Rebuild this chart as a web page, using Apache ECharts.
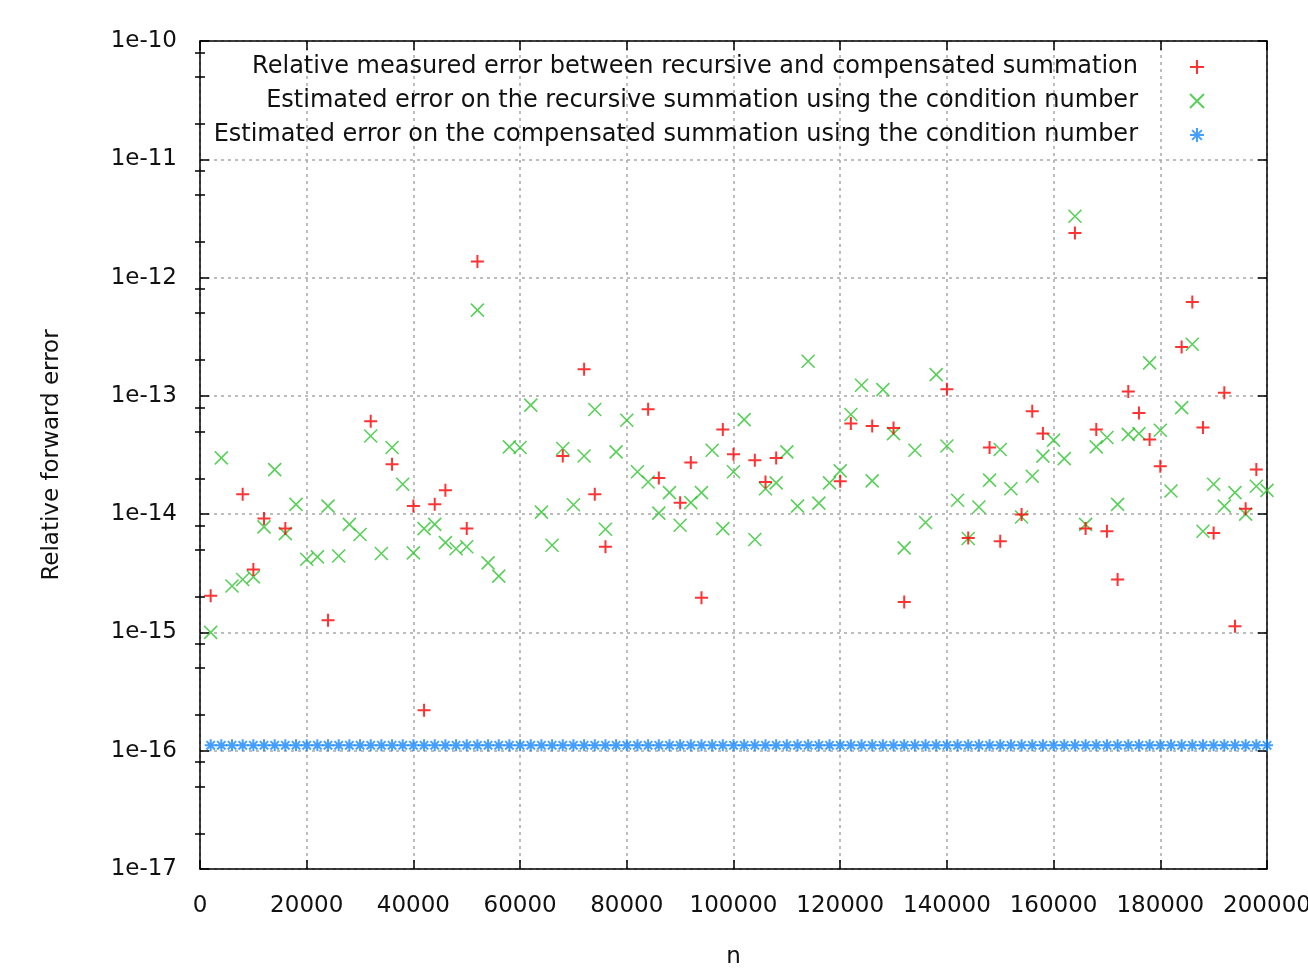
<!DOCTYPE html>
<html>
<head>
<meta charset="utf-8">
<title>Relative forward error of recursive and compensated summation</title>
<script src="https://cdn.jsdelivr.net/npm/echarts@6/dist/echarts.min.js"></script>
<style>
  html, body { margin: 0; padding: 0; background: #ffffff; }
  #chart { width: 1308px; height: 976px; }
</style>
</head>
<body>
<div id="chart"></div>
<script>
// Problem sizes n (every run of the experiment)
const sizes = [
  2000, 4000, 6000, 8000, 10000, 12000, 14000, 16000, 18000, 20000,
  22000, 24000, 26000, 28000, 30000, 32000, 34000, 36000, 38000, 40000,
  42000, 44000, 46000, 48000, 50000, 52000, 54000, 56000, 58000, 60000,
  62000, 64000, 66000, 68000, 70000, 72000, 74000, 76000, 78000, 80000,
  82000, 84000, 86000, 88000, 90000, 92000, 94000, 96000, 98000, 100000,
  102000, 104000, 106000, 108000, 110000, 112000, 114000, 116000, 118000, 120000,
  122000, 124000, 126000, 128000, 130000, 132000, 134000, 136000, 138000, 140000,
  142000, 144000, 146000, 148000, 150000, 152000, 154000, 156000, 158000, 160000,
  162000, 164000, 166000, 168000, 170000, 172000, 174000, 176000, 178000, 180000,
  182000, 184000, 186000, 188000, 190000, 192000, 194000, 196000, 198000, 200000
];

// Error bound of the recursive summation (condition number based), one per size
const estimatedRecursive = [
  1.0e-15, 2.99e-14, 2.47e-15, 2.8e-15, 2.95e-15, 7.8e-15, 2.38e-14, 6.85e-15, 1.21e-14, 4.16e-15,
  4.35e-15, 1.17e-14, 4.43e-15, 8.2e-15, 6.73e-15, 4.58e-14, 4.65e-15, 3.66e-14, 1.79e-14, 4.7e-15,
  7.55e-15, 8.2e-15, 5.75e-15, 5.1e-15, 5.3e-15, 5.3e-13, 3.87e-15, 2.99e-15, 3.7e-14, 3.66e-14,
  8.34e-14, 1.04e-14, 5.46e-15, 3.59e-14, 1.2e-14, 3.1e-14, 7.66e-14, 7.45e-15, 3.36e-14, 6.22e-14,
  2.28e-14, 1.87e-14, 1.02e-14, 1.52e-14, 8.05e-15, 1.25e-14, 1.52e-14, 3.47e-14, 7.55e-15, 2.28e-14,
  6.3e-14, 6.1e-15, 1.64e-14, 1.84e-14, 3.36e-14, 1.17e-14, 1.96e-13, 1.24e-14, 1.84e-14, 2.32e-14,
  6.95e-14, 1.23e-13, 1.91e-14, 1.13e-13, 4.8e-14, 5.18e-15, 3.47e-14, 8.5e-15, 1.51e-13, 3.77e-14,
  1.31e-14, 6.22e-15, 1.15e-14, 1.94e-14, 3.52e-14, 1.64e-14, 9.46e-15, 2.09e-14, 3.09e-14, 4.22e-14,
  2.95e-14, 3.3e-12, 8.2e-15, 3.7e-14, 4.45e-14, 1.21e-14, 4.73e-14, 4.8e-14, 1.9e-13, 5.12e-14,
  1.57e-14, 7.96e-14, 2.73e-13, 7.17e-15, 1.79e-14, 1.17e-14, 1.52e-14, 1.0e-14, 1.72e-14, 1.59e-14
];

// Error bound of the compensated summation, one per size
const estimatedCompensated = [
  1.11e-16, 1.11e-16, 1.11e-16, 1.11e-16, 1.11e-16, 1.11e-16, 1.11e-16, 1.11e-16, 1.11e-16, 1.11e-16,
  1.11e-16, 1.11e-16, 1.11e-16, 1.11e-16, 1.11e-16, 1.11e-16, 1.11e-16, 1.11e-16, 1.11e-16, 1.11e-16,
  1.11e-16, 1.11e-16, 1.11e-16, 1.11e-16, 1.11e-16, 1.11e-16, 1.11e-16, 1.11e-16, 1.11e-16, 1.11e-16,
  1.11e-16, 1.11e-16, 1.11e-16, 1.11e-16, 1.11e-16, 1.11e-16, 1.11e-16, 1.11e-16, 1.11e-16, 1.11e-16,
  1.11e-16, 1.11e-16, 1.11e-16, 1.11e-16, 1.11e-16, 1.11e-16, 1.11e-16, 1.11e-16, 1.11e-16, 1.11e-16,
  1.11e-16, 1.11e-16, 1.11e-16, 1.11e-16, 1.11e-16, 1.11e-16, 1.11e-16, 1.11e-16, 1.11e-16, 1.11e-16,
  1.11e-16, 1.11e-16, 1.11e-16, 1.11e-16, 1.11e-16, 1.11e-16, 1.11e-16, 1.11e-16, 1.11e-16, 1.11e-16,
  1.11e-16, 1.11e-16, 1.11e-16, 1.11e-16, 1.11e-16, 1.11e-16, 1.11e-16, 1.11e-16, 1.11e-16, 1.11e-16,
  1.11e-16, 1.11e-16, 1.11e-16, 1.11e-16, 1.11e-16, 1.11e-16, 1.11e-16, 1.11e-16, 1.11e-16, 1.11e-16,
  1.11e-16, 1.11e-16, 1.11e-16, 1.11e-16, 1.11e-16, 1.11e-16, 1.11e-16, 1.11e-16, 1.11e-16, 1.11e-16
];

// Measured relative error between the two summations (sizes where it is non-zero)
const measuredN = [
  2000, 8000, 10000, 12000, 16000, 24000, 32000, 36000, 40000, 42000,
  44000, 46000, 50000, 52000, 68000, 72000, 74000, 76000, 84000, 86000,
  90000, 92000, 94000, 98000, 100000, 104000, 106000, 108000, 120000, 122000,
  126000, 130000, 132000, 140000, 144000, 148000, 150000, 154000, 156000, 158000,
  164000, 166000, 168000, 170000, 172000, 174000, 176000, 178000, 180000, 184000,
  186000, 188000, 190000, 192000, 194000, 196000, 198000
];
const measuredError = [
  2.04e-15, 1.47e-14, 3.4e-15, 9.2e-15, 7.55e-15, 1.27e-15, 6.1e-14, 2.64e-14, 1.17e-14, 2.2e-16,
  1.21e-14, 1.59e-14, 7.55e-15, 1.37e-12, 3.1e-14, 1.68e-13, 1.47e-14, 5.29e-15, 7.7e-14, 2.02e-14,
  1.25e-14, 2.73e-14, 1.96e-15, 5.19e-14, 3.21e-14, 2.85e-14, 1.87e-14, 2.99e-14, 1.9e-14, 5.83e-14,
  5.57e-14, 5.36e-14, 1.81e-15, 1.14e-13, 6.29e-15, 3.66e-14, 5.9e-15, 9.93e-15, 7.41e-14, 4.8e-14,
  2.38e-12, 7.55e-15, 5.19e-14, 7.17e-15, 2.8e-15, 1.09e-13, 7.17e-14, 4.27e-14, 2.54e-14, 2.59e-13,
  6.22e-13, 5.4e-14, 6.94e-15, 1.06e-13, 1.13e-15, 1.11e-14, 2.38e-14
];

const seriesNames = [
  'Relative measured error between recursive and compensated summation',
  'Estimated error on the recursive summation using the condition number',
  'Estimated error on the compensated summation using the condition number'
];

const xAxisName = 'n';
const yAxisName = 'Relative forward error';

// Log-axis minor ticks sit at 2, 5 and 8 within every decade
const minorTickFactors = [2, 5, 8];
const decadeExponents = [-17, -16, -15, -14, -13, -12, -11];

const minorTickValues = [];
decadeExponents.forEach(function (e) {
  minorTickFactors.forEach(function (f) {
    minorTickValues.push(Number(f + 'e' + e));
  });
});

const FONT = 'DejaVu Sans';
const TEXT = '#111111';
const PLUS = 'path://M0,6L12,6M6,0L6,12';
const CROSS = 'path://M0,0L12,12M12,0L0,12';
const STAR = 'path://M0,6L12,6M6,0L6,12M1.8,1.8L10.2,10.2M10.2,1.8L1.8,10.2';

function pairs(xs, ys) {
  return xs.map(function (x, i) { return [x, ys[i]]; });
}

const frameLine = { show: true, onZero: false, lineStyle: { color: '#000000', width: 1.5 } };
const majorTick = { show: true, inside: true, length: 9, lineStyle: { color: '#000000', width: 1.5 } };
const minorTick = { show: true, inside: true, length: 5, customValues: minorTickValues,
                    lineStyle: { color: '#000000', width: 1.5 } };
const gridLine = { show: true, lineStyle: { color: '#a8a8a8', width: 1.5, type: [3, 4] } };

function logAxis(position, extra) {
  return Object.assign({
    type: 'log',
    logBase: 10,
    min: 1e-17,
    max: 1e-10,
    position: position,
    axisLine: frameLine,
    axisTick: majorTick,
    axisLabel: { show: false },
    splitLine: { show: false },
    minorTick: { show: false },
    minorSplitLine: { show: false }
  }, extra || {});
}

function linearAxis(position, extra) {
  return Object.assign({
    type: 'value',
    min: 0,
    max: 200000,
    interval: 20000,
    position: position,
    axisLine: frameLine,
    axisTick: majorTick,
    axisLabel: { show: false },
    splitLine: { show: false }
  }, extra || {});
}

const chart = echarts.init(document.getElementById('chart'), null, { renderer: 'canvas' });

chart.setOption({
  animation: false,
  backgroundColor: '#ffffff',
  textStyle: { fontFamily: FONT, color: TEXT },
  grid: { left: 200, right: 41, top: 41, bottom: 107, containLabel: false, outerBoundsMode: 'none' },
  legend: {
    orient: 'vertical',
    right: 103,
    top: 55,
    align: 'right',
    padding: 0,
    itemWidth: 108,
    itemHeight: 14,
    itemGap: 10,
    selectedMode: false,
    textStyle: { fontFamily: FONT, fontSize: 24, color: TEXT, lineHeight: 23 },
    data: [
      { name: seriesNames[0], icon: PLUS },
      { name: seriesNames[1], icon: CROSS },
      { name: seriesNames[2], icon: STAR }
    ]
  },
  xAxis: [
    linearAxis('bottom', {
      name: xAxisName,
      nameLocation: 'middle',
      nameGap: 77,
      nameTextStyle: { fontFamily: FONT, fontSize: 23, color: TEXT },
      axisLabel: {
        show: true, margin: 26, fontFamily: FONT, fontSize: 23, color: TEXT,
        formatter: function (v) { return String(v); }
      },
      splitLine: gridLine
    }),
    linearAxis('top')
  ],
  yAxis: [
    logAxis('left', {
      name: yAxisName,
      nameLocation: 'middle',
      nameGap: 136,
      nameTextStyle: { fontFamily: FONT, fontSize: 23, color: TEXT },
      axisLabel: {
        show: true, margin: 23, fontFamily: FONT, fontSize: 23, color: TEXT,
        formatter: function (v) { return '1e' + Math.round(Math.log10(v)); }
      },
      splitLine: gridLine
    }),
    logAxis('left', { axisLine: { show: false }, axisTick: minorTick }),
    logAxis('right'),
    logAxis('right', { axisLine: { show: false }, axisTick: minorTick })
  ],
  series: [
    {
      name: seriesNames[1],
      type: 'scatter',
      xAxisIndex: 0,
      yAxisIndex: 0,
      data: pairs(sizes, estimatedRecursive),
      symbol: CROSS,
      symbolSize: 13,
      itemStyle: { color: '#2fc42f', borderColor: '#2fc42f', borderWidth: 1.6 },
      emphasis: { disabled: true },
      z: 2
    },
    {
      name: seriesNames[2],
      type: 'scatter',
      xAxisIndex: 0,
      yAxisIndex: 0,
      data: pairs(sizes, estimatedCompensated),
      symbol: STAR,
      symbolSize: 12,
      itemStyle: { color: '#1787ff', borderColor: '#1787ff', borderWidth: 2 },
      emphasis: { disabled: true },
      z: 2
    },
    {
      name: seriesNames[0],
      type: 'scatter',
      xAxisIndex: 0,
      yAxisIndex: 0,
      data: pairs(measuredN, measuredError),
      symbol: PLUS,
      symbolSize: 13,
      itemStyle: { color: '#ff0000', borderColor: '#ff0000', borderWidth: 2 },
      emphasis: { disabled: true },
      z: 3
    }
  ]
});
</script>
</body>
</html>
